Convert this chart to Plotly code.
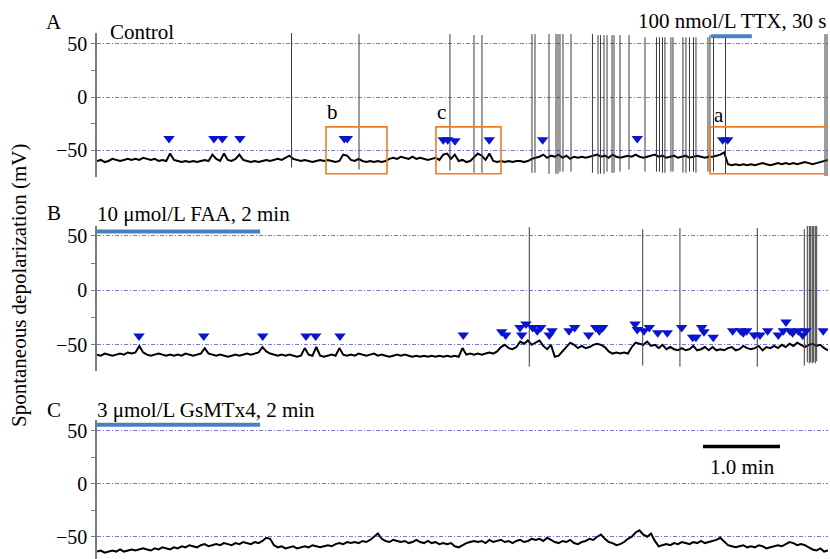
import plotly.graph_objects as go

# ---------------- data (time in min, membrane potential in mV) ----------------
SAMPLE_STEP = 0.05

A_base = [
    -60, -59, -61, -60, -58, -59, -60, -59, -58, -59,
    -58, -59, -57, -58, -59, -58, -60, -59, -60, -53,
    -59, -60, -61, -60, -61, -60, -61, -60, -59, -60,
    -54, -58, -60, -53, -59, -60, -58, -54, -59, -60,
    -61, -60, -61, -60, -59, -60, -59, -58, -59, -57,
    -55, -58, -59, -60, -59, -60, -61, -60, -59, -60,
    -59, -60, -61, -60, -54, -55, -59, -60, -58, -60,
    -61, -60, -61, -60, -61, -60, -58, -57, -58, -56,
    -57, -58, -56, -58, -57, -58, -59, -58, -57, -59,
    -54, -53, -58, -54, -60, -59, -61, -60, -56, -53,
    -55, -59, -53, -60, -61, -60, -61, -60, -61, -60,
    -60, -61, -60, -58, -57, -56, -54, -57, -55, -56,
    -54, -57, -55, -58, -56, -57, -56, -57, -56, -55,
    -54, -56, -55, -57, -54, -56, -57, -56, -55, -56,
    -54, -56, -57, -56, -55, -54, -56, -55, -57, -56,
    -55, -57, -56, -55, -57, -56, -55, -56, -57, -56,
    -56, -55, -54, -52, -63, -64, -63, -64, -63, -64,
    -63, -64, -63, -62, -63, -64, -63, -62, -63, -62,
    -63, -62, -63, -62, -61, -62, -63, -62, -61, -60,
    -59,
]

B_base = [
    -59, -60, -58, -59, -60, -59, -58, -59, -57, -58,
    -57, -51, -57, -59, -60, -59, -58, -59, -60, -59,
    -60, -59, -60, -58, -59, -60, -59, -58, -53, -58,
    -59, -60, -59, -60, -61, -60, -59, -60, -59, -58,
    -59, -58, -57, -52, -56, -58, -59, -60, -59, -60,
    -59, -60, -61, -60, -53, -59, -60, -52, -60, -61,
    -60, -59, -60, -53, -59, -60, -59, -60, -58, -59,
    -60, -59, -58, -60, -59, -60, -61, -60, -59, -60,
    -59, -60, -61, -60, -61, -60, -61, -60, -61, -60,
    -61, -60, -61, -60, -61, -53, -59, -58, -59, -58,
    -59, -58, -57, -58, -56, -52, -50, -53, -54, -52,
    -47, -49, -46, -50, -48, -46, -51, -54, -50, -61,
    -60, -56, -52, -48, -50, -53, -51, -53, -52, -50,
    -49, -50, -52, -56, -58, -57, -58, -57, -58, -52,
    -48, -49, -50, -47, -51, -50, -53, -50, -54, -52,
    -54, -55, -53, -55, -54, -51, -55, -54, -52, -55,
    -52, -55, -54, -55, -53, -52, -55, -54, -51, -53,
    -54, -53, -51, -55, -52, -53, -51, -53, -50, -52,
    -49, -51, -48, -50, -52, -50, -49, -51, -50, -53,
    -55,
]

C_base = [
    -64, -63, -65, -64, -63, -64, -62, -64, -63, -62,
    -63, -62, -61, -62, -63, -61, -62, -60, -61, -62,
    -60, -61, -59, -60, -58, -59, -60, -58, -57, -59,
    -58, -57, -58, -56, -57, -58, -56, -57, -55, -56,
    -57, -55, -56, -54, -51, -52, -58, -60, -59, -61,
    -60, -59, -61, -60, -59, -60, -58, -59, -60, -59,
    -58, -59, -57, -56, -57, -55, -56, -55, -56, -54,
    -55, -53, -50, -47, -52, -54, -55, -53, -54, -55,
    -54, -56, -55, -53, -55, -56, -54, -56, -55, -57,
    -56, -57, -56, -59, -60, -58, -56, -55, -54, -55,
    -54, -56, -53, -55, -54, -53, -55, -54, -56, -54,
    -53, -55, -54, -52, -53, -52, -54, -51, -53, -55,
    -56, -54, -55, -53, -56, -57, -55, -54, -52, -53,
    -50, -48, -52, -55, -56, -58, -57, -55, -52, -50,
    -46, -44, -48, -50, -47, -54, -59, -58, -57, -58,
    -56, -57, -55, -56, -57, -55, -56, -54, -56, -55,
    -54, -53, -51, -55, -58, -59, -60, -59, -58, -60,
    -59, -60, -58, -59, -61, -60, -59, -58, -59, -57,
    -55, -56, -58, -57, -58, -60, -62, -63, -61, -64,
    -63,
]

# action potentials (time, peak, trough)
A_spk_t = [2.528, 3.405, 4.587, 4.899, 5.003, 5.653, 5.692, 5.874, 5.965, 5.991,
           6.017, 6.056, 6.160, 6.439, 6.511, 6.543, 6.589, 6.628, 6.693, 6.719,
           6.797, 6.914, 7.122, 7.271, 7.310, 7.349, 7.381, 7.459, 7.485, 7.615,
           7.654, 7.700, 7.752, 7.784, 7.940, 7.966, 8.012, 8.168, 9.461, 9.487]
A_spk_peak = [61, 59, 59, 58, 58, 59, 59, 59, 59, 59,
              59, 59, 59, 59, 58, 58, 58, 58, 58, 58,
              58, 58, 56, 56, 56, 56, 56, 56, 56, 56,
              56, 56, 56, 56, 56, 58, 56, 56, 59, 59]
A_spk_trough = [-66, -68, -69, -71, -71, -71, -71, -72, -72, -72,
                -70, -70, -70, -71, -72, -72, -72, -70, -71, -71,
                -70, -68, -70, -70, -70, -71, -71, -70, -70, -71,
                -71, -70, -70, -71, -70, -70, -70, -72, -74, -74]

B_spk_t = [5.618, 7.092, 7.576, 8.581, 9.192, 9.231, 9.257, 9.275, 9.296, 9.314, 9.335, 9.353]
B_spk_peak = [58, 56, 57, 57, 56, 59, 59, 59, 59, 59, 59, 59]
B_spk_trough = [-70, -69, -70, -70, -69, -66, -67, -66, -67, -66, -67, -65]

# spontaneous depolarization markers (arrowheads)
A_evt_t = [0.936, 1.520, 1.628, 1.858, 3.214, 3.253, 4.500, 4.558, 4.652, 5.098,
           5.792, 7.021, 8.131, 8.196]
A_evt_v = [-39, -39, -39, -39, -39, -39, -40, -40, -41, -40,
           -40, -39, -40, -40]

B_evt_t = [0.546, 1.387, 2.153, 2.716, 2.842, 3.158, 4.760, 5.259, 5.311, 5.497,
           5.519, 5.575, 5.662, 5.722, 5.766, 5.878, 5.913, 6.134, 6.208, 6.390,
           6.481, 6.528, 6.572, 6.992, 7.021, 7.108, 7.177, 7.287, 7.411, 7.598,
           7.741, 7.784, 7.858, 7.888, 8.009, 8.261, 8.365, 8.399, 8.443, 8.542,
           8.616, 8.716, 8.854, 8.919, 8.954, 9.006, 9.041, 9.114, 9.171, 9.213,
           9.438]
B_evt_v = [-42, -42, -42, -42, -42, -42, -41, -38, -41, -34,
           -41, -31, -34, -37, -34, -41, -37, -37, -34, -41,
           -34, -37, -34, -31, -36, -37, -34, -39, -39, -34,
           -43, -43, -34, -38, -43, -37, -37, -39, -37, -41,
           -41, -37, -41, -37, -29, -37, -39, -37, -41, -37,
           -37]

# stimulus bars / scale bar (min)
TTX_bar = (7.98, 8.51)
FAA_bar = (0.0, 2.12)
GSM_bar = (0.0, 2.12)
scale_bar = (7.875, 8.876)

box_b = (2.976, 3.769)
box_c = (4.405, 5.250)
box_a = (7.966, 9.52)
box_v = (-72, -28)

# ---------------- figure ----------------
W, H = 830, 559
FONT = "Liberation Serif, Times New Roman, serif"


def px(x):
    return x / W


def py(y):
    return 1 - y / H


def times(n):
    return [round(i * SAMPLE_STEP, 3) for i in range(n)]


def spikes(ts, pk, tr):
    xs, ys = [], []
    for t, p, q in zip(ts, pk, tr):
        xs += [t, t, None]
        ys += [q, p, None]
    return xs, ys


fig = go.Figure()
panels = [
    ("x", "y", A_base, (A_spk_t, A_spk_peak, A_spk_trough), (A_evt_t, A_evt_v)),
    ("x2", "y2", B_base, (B_spk_t, B_spk_peak, B_spk_trough), (B_evt_t, B_evt_v)),
    ("x3", "y3", C_base, None, None),
]
for xa, ya, base, spk, evt in panels:
    fig.add_trace(go.Scatter(x=times(len(base)), y=base, mode="lines",
                             line=dict(color="black", width=2),
                             xaxis=xa, yaxis=ya, hoverinfo="skip"))
    if spk:
        sx, sy = spikes(*spk)
        fig.add_trace(go.Scatter(x=sx, y=sy, mode="lines",
                                 line=dict(color="#3a3a3a", width=1),
                                 xaxis=xa, yaxis=ya, hoverinfo="skip"))
    if evt:
        fig.add_trace(go.Scatter(x=evt[0], y=evt[1], mode="markers",
                                 marker=dict(symbol="triangle-down", size=10,
                                             color="#0a14d0", line=dict(width=0)),
                                 xaxis=xa, yaxis=ya, hoverinfo="skip"))

xdom = [px(97), px(828)]
yax_common = dict(
    showline=True, linecolor="#7a7a7a", linewidth=1.5,
    ticks="outside", ticklen=4, tickcolor="#7a7a7a", tickwidth=1,
    tickvals=[-50, 0, 50], ticktext=["\u221250", "0", "50"],
    tickfont=dict(family=FONT, size=20, color="black"),
    showgrid=True, gridcolor="rgba(80,80,240,0.8)", gridwidth=1,
    griddash="4px,2px,1px,2px", zeroline=False,
    minor=dict(tickvals=[-25, 25], ticks="outside", ticklen=4,
               tickcolor="#7a7a7a", showgrid=False),
)
xax_common = dict(domain=xdom, range=[0, 9.5], visible=False, showgrid=False)

fig.update_layout(
    width=W, height=H, margin=dict(l=0, r=0, t=0, b=0),
    paper_bgcolor="white", plot_bgcolor="white", showlegend=False,
    xaxis=dict(**xax_common, anchor="y"),
    xaxis2=dict(**xax_common, anchor="y2"),
    xaxis3=dict(**xax_common, anchor="y3"),
    yaxis=dict(**yax_common, domain=[py(177), py(33)], range=[-75, 60], anchor="x"),
    yaxis2=dict(**yax_common, domain=[py(371), py(226)], range=[-74, 59], anchor="x2"),
    yaxis3=dict(**yax_common, domain=[0, py(420)], range=[-71, 60], anchor="x3"),
)

BLUE_BAR = "#4a80c0"
ORANGE = "#ef7d22"
shapes = [
    dict(type="line", xref="x", yref="y", x0=TTX_bar[0], x1=TTX_bar[1], y0=57, y1=57,
         line=dict(color=BLUE_BAR, width=4)),
    dict(type="line", xref="x2", yref="y2", x0=FAA_bar[0], x1=FAA_bar[1], y0=54, y1=54,
         line=dict(color=BLUE_BAR, width=4)),
    dict(type="line", xref="x3", yref="y3", x0=GSM_bar[0], x1=GSM_bar[1], y0=55.6, y1=55.6,
         line=dict(color=BLUE_BAR, width=4)),
    dict(type="line", xref="x3", yref="y3", x0=scale_bar[0], x1=scale_bar[1], y0=35, y1=35,
         line=dict(color="black", width=3.5)),
]
for bx in (box_b, box_c, box_a):
    shapes.append(dict(type="rect", xref="x", yref="y", x0=bx[0], x1=bx[1],
                       y0=box_v[0], y1=box_v[1], line=dict(color=ORANGE, width=1.6),
                       fillcolor="rgba(0,0,0,0)"))
fig.update_layout(shapes=shapes)

def ann(text, x, y, xanchor="center", size=21, angle=0):
    fig.add_annotation(text=text, x=px(x), y=py(y), xref="paper", yref="paper",
                       xanchor=xanchor, yanchor="middle", showarrow=False,
                       textangle=angle, font=dict(family=FONT, size=size, color="black"))

ann("A", 54, 22)
ann("B", 54, 213)
ann("C", 54, 410)
ann("Control", 108, 32, xanchor="left")
ann("100 nmol/L TTX, 30 s", 828, 21, xanchor="right")
ann("10 \u03bcmol/L FAA, 2 min", 95, 214, xanchor="left")
ann("3 \u03bcmol/L GsMTx4, 2 min", 95, 410, xanchor="left")
ann("b", 332, 112)
ann("c", 441, 112)
ann("a", 719, 115)
ann("1.0 min", 742, 467)
ann("Spontaneous depolarization (mV)", 19, 286, angle=-90)

fig.write_html("out.html")
